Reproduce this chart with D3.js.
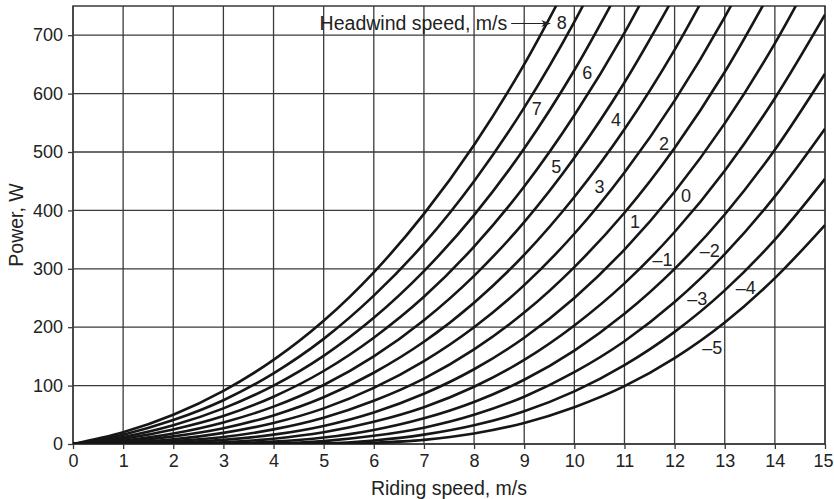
<!DOCTYPE html>
<html>
<head>
<meta charset="utf-8">
<script src="https://cdn.jsdelivr.net/npm/d3@7"></script>
<style>
    body { margin: 0; background: white; }
    svg text { font-family: 'Liberation Sans', Arial, sans-serif; fill: #222; }
</style>
</head>
<body>
<svg class="main" width="834" height="499"></svg>
<script>
// riding speed, m/s
const speeds = [0, 1, 2, 3, 4, 5, 6, 7, 8, 9, 10, 11, 12, 13, 14, 15];

// power (W) at whole riding speeds
const wind8 = [0, 20, 50, 91, 144, 211, 294, 394, 512, 650, 810];
const wind7 = [0, 16, 41, 75, 121, 180, 254, 343, 450, 576, 723, 891];
const wind6 = [0, 12, 32, 61, 100, 151, 216, 296, 392, 506, 640, 795];
const wind5 = [0, 9, 25, 48, 81, 125, 182, 252, 338, 441, 563, 704, 867];
const wind4 = [0, 6, 18, 37, 64, 101, 150, 212, 288, 380, 490, 619, 768];
const wind3 = [0, 4, 13, 27, 49, 80, 122, 175, 242, 324, 423, 539, 675, 832];
const wind2 = [0, 2, 8, 19, 36, 61, 96, 142, 200, 272, 360, 465, 588, 731, 896];
const wind1 = [0, 1, 5, 12, 25, 45, 74, 112, 162, 225, 303, 396, 507, 637, 788];
const wind0 = [0, 0, 2, 7, 16, 31, 54, 86, 128, 182, 250, 333, 432, 549, 686, 844];
const windM1 = [0, 0, 1, 3, 9, 20, 38, 63, 98, 144, 203, 275, 363, 468, 592, 735];
const windM2 = [0, 0, 0, 1, 4, 11, 24, 44, 72, 110, 160, 223, 300, 393, 504, 634];
const windM3 = [0, 0, 0, 0, 1, 5, 14, 28, 50, 81, 123, 176, 243, 325, 424, 540];
const windM4 = [0, 0, 0, 0, 0, 1, 6, 16, 32, 56, 90, 135, 192, 263, 350, 454];
const windM5 = [0, 0, 0, 0, 0, 0, 2, 7, 18, 36, 63, 99, 147, 208, 284, 375];

const xTicks = [0, 1, 2, 3, 4, 5, 6, 7, 8, 9, 10, 11, 12, 13, 14, 15];
const yTicks = [0, 100, 200, 300, 400, 500, 600, 700];

const series = [
    { wind: 8, values: wind8 }, { wind: 7, values: wind7 }, { wind: 6, values: wind6 },
    { wind: 5, values: wind5 }, { wind: 4, values: wind4 }, { wind: 3, values: wind3 },
    { wind: 2, values: wind2 }, { wind: 1, values: wind1 }, { wind: 0, values: wind0 },
    { wind: -1, values: windM1 }, { wind: -2, values: windM2 }, { wind: -3, values: windM3 },
    { wind: -4, values: windM4 }, { wind: -5, values: windM5 }
];

// where each curve number sits, in chart units
const curveLabels = [
    { text: '8', x: 9.75, y: 721 }, { text: '7', x: 9.25, y: 575 },
    { text: '6', x: 10.26, y: 635 }, { text: '5', x: 9.64, y: 475 },
    { text: '4', x: 10.83, y: 555 }, { text: '3', x: 10.5, y: 441 },
    { text: '2', x: 11.79, y: 515 }, { text: '1', x: 11.21, y: 381 },
    { text: '0', x: 12.23, y: 425 }, { text: '\u20131', x: 11.76, y: 315 },
    { text: '\u20132', x: 12.7, y: 331 }, { text: '\u20133', x: 12.45, y: 248 },
    { text: '\u20134', x: 13.42, y: 267 }, { text: '\u20135', x: 12.75, y: 165 }
];

const margin = { top: 6, right: 9, bottom: 55, left: 73 },
    width = 834 - margin.left - margin.right,
    height = 499 - margin.top - margin.bottom,
    gridColor = '#3a3a3a',
    tickFont = 18,
    fontSize = 19.5;

const svg = d3.select('svg.main');
const chart = svg.append('g').attr('transform', `translate(${margin.left},${margin.top})`);

const x = d3.scaleLinear().domain([0, 15]).range([0, width]);
const y = d3.scaleLinear().domain([0, 750]).range([height, 0]);

// grid
chart.append('g').selectAll('line.v')
    .data(xTicks)
    .enter().append('line')
    .attr('x1', d => x(d)).attr('x2', d => x(d))
    .attr('y1', 0).attr('y2', height)
    .attr('stroke', gridColor).attr('stroke-width', 1.3);

chart.append('g').selectAll('line.h')
    .data(yTicks)
    .enter().append('line')
    .attr('x1', 0).attr('x2', width)
    .attr('y1', d => y(d)).attr('y2', d => y(d))
    .attr('stroke', gridColor).attr('stroke-width', 1.3);

chart.append('rect')
    .attr('width', width).attr('height', height)
    .attr('fill', 'none')
    .attr('stroke', gridColor).attr('stroke-width', 1.5);

// axes
const xAxis = chart.append('g')
    .attr('transform', `translate(0,${height})`)
    .call(d3.axisBottom(x).tickValues(xTicks).tickSize(5).tickPadding(5));

const yAxis = chart.append('g')
    .call(d3.axisLeft(y).tickValues(yTicks).tickSize(5).tickPadding(5));

[xAxis, yAxis].forEach(a => {
    a.select('.domain').remove();
    a.selectAll('line').attr('stroke', gridColor).attr('stroke-width', 1.3);
    a.selectAll('text')
        .attr('font-size', tickFont)
        .attr('font-family', "'Liberation Sans', Arial, sans-serif")
        .attr('fill', '#222');
});

// keep the last speed label inside the page
xAxis.selectAll('.tick text')
    .filter(d => d === 15)
    .attr('dx', -2);

// curves
chart.append('clipPath').attr('id', 'plot-clip')
    .append('rect').attr('width', width).attr('height', height);

const line = d3.line()
    .x((d, i) => x(speeds[i]))
    .y(d => y(d))
    .curve(d3.curveMonotoneX);

chart.append('g')
    .attr('clip-path', 'url(#plot-clip)')
    .selectAll('path')
    .data(series)
    .enter().append('path')
    .attr('d', d => line(d.values))
    .attr('fill', 'none')
    .attr('stroke', '#161616')
    .attr('stroke-width', 2.6)
    .attr('stroke-linejoin', 'round');

chart.append('g').selectAll('text')
    .data(curveLabels)
    .enter().append('text')
    .text(d => d.text)
    .attr('x', d => x(d.x))
    .attr('y', d => y(d.y))
    .attr('dy', '0.35em')
    .attr('text-anchor', 'middle')
    .attr('font-size', tickFont);

// headwind note with arrow
chart.append('defs').append('marker')
    .attr('id', 'arrow')
    .attr('viewBox', '0 0 10 10')
    .attr('refX', 10).attr('refY', 5)
    .attr('markerWidth', 9).attr('markerHeight', 9)
    .attr('markerUnits', 'userSpaceOnUse')
    .attr('orient', 'auto')
    .append('path')
    .attr('d', 'M0,1 L10,5 L0,9 L3,5 Z')
    .attr('fill', '#222');

chart.append('line')
    .attr('x1', x(8.74)).attr('x2', x(9.52))
    .attr('y1', y(720)).attr('y2', y(720))
    .attr('stroke', '#222').attr('stroke-width', 1.2)
    .attr('marker-end', 'url(#arrow)');

chart.append('text')
    .text('Headwind speed, m/s')
    .attr('x', x(8.66)).attr('y', y(720))
    .attr('dy', '0.35em')
    .attr('text-anchor', 'end')
    .attr('font-size', fontSize);

// axis titles
svg.append('text')
    .text('Riding speed, m/s')
    .attr('x', margin.left + width / 2)
    .attr('y', 495)
    .attr('text-anchor', 'middle')
    .attr('font-size', fontSize);

svg.append('text')
    .text('Power, W')
    .attr('transform', `translate(23,${margin.top + y(375)}) rotate(-90)`)
    .attr('text-anchor', 'middle')
    .attr('font-size', fontSize);
</script>
</body>
</html>
